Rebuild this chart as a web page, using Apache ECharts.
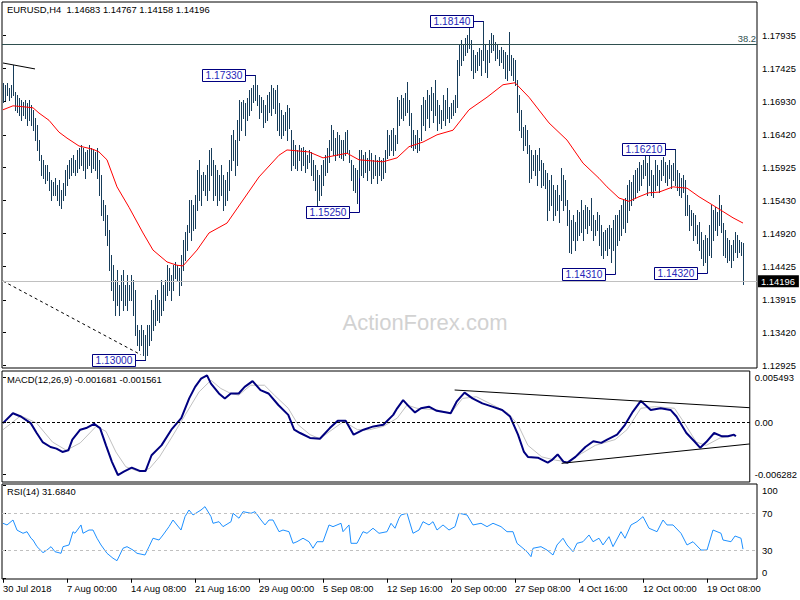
<!DOCTYPE html>
<html><head><meta charset="utf-8">
<script src="https://cdn.jsdelivr.net/npm/echarts@6/dist/echarts.min.js"></script>
<style>html,body{margin:0;padding:0;background:#fff}#c{width:800px;height:600px}</style>
</head><body><div id="c"></div>
<script>
const symbolName = 'EURUSD,H4';
const lastOHLC = [1.14683, 1.14767, 1.14158, 1.14196];
const macdTitle = 'MACD(12,26,9) -0.001681 -0.001561';
const rsiTitle = 'RSI(14) 31.6840';
const watermark = 'ActionForex.com';

const highs = [
1.1721,1.1718,1.1721,1.1713,1.1718,1.1748,1.1707,1.1702,1.1698,1.1695,
1.1692,1.1695,1.1690,1.1695,1.1687,1.1680,1.1668,1.1657,1.1634,1.1611,
1.1604,1.1596,1.1596,1.1586,1.1573,1.1570,1.1576,1.1566,1.1573,1.1558,
1.1569,1.1589,1.1596,1.1604,1.1607,1.1611,1.1604,1.1619,1.1622,1.1627,
1.1622,1.1616,1.1619,1.1627,1.1622,1.1619,1.1616,1.1622,1.1604,1.1581,
1.1543,1.1535,1.1520,1.1498,1.1460,1.1444,1.1422,1.1437,1.1414,1.1429,
1.1437,1.1414,1.1429,1.1414,1.1429,1.1422,1.1406,1.1353,1.1346,1.1353,
1.1346,1.1338,1.1353,1.1353,1.1391,1.1376,1.1399,1.1406,1.1391,1.1422,
1.1414,1.1422,1.1444,1.1440,1.1429,1.1444,1.1449,1.1444,1.1440,1.1460,
1.1482,1.1495,1.1505,1.1543,1.1543,1.1535,1.1551,1.1589,1.1604,1.1581,
1.1586,1.1581,1.1596,1.1619,1.1622,1.1604,1.1596,1.1589,1.1581,1.1596,
1.1581,1.1573,1.1586,1.1604,1.1642,1.1649,1.1634,1.1664,1.1695,1.1692,
1.1695,1.1690,1.1698,1.1710,1.1713,1.1718,1.1733,1.1718,1.1702,1.1699,
1.1695,1.1687,1.1702,1.1707,1.1718,1.1713,1.1710,1.1718,1.1690,1.1680,
1.1672,1.1677,1.1687,1.1683,1.1649,1.1634,1.1627,1.1619,1.1627,1.1622,
1.1623,1.1619,1.1611,1.1619,1.1616,1.1604,1.1596,1.1589,1.1581,1.1596,
1.1604,1.1611,1.1622,1.1634,1.1657,1.1649,1.1637,1.1646,1.1642,1.1634,
1.1634,1.1646,1.1649,1.1619,1.1604,1.1596,1.1592,1.1589,1.1619,1.1619,
1.1611,1.1616,1.1607,1.1619,1.1614,1.1604,1.1611,1.1604,1.1608,1.1604,
1.1607,1.1619,1.1649,1.1642,1.1649,1.1652,1.1642,1.1699,1.1695,1.1702,
1.1698,1.1705,1.1722,1.1695,1.1675,1.1649,1.1642,1.1649,1.1637,1.1687,
1.1699,1.1695,1.1710,1.1702,1.1715,1.1705,1.1725,1.1695,1.1687,1.1680,
1.1702,1.1695,1.1713,1.1684,1.1690,1.1695,1.1702,1.1755,1.1778,1.1786,
1.1778,1.1789,1.1794,1.1804,1.1786,1.1771,1.1763,1.1768,1.1774,1.1771,
1.1814,1.1778,1.1771,1.1786,1.1797,1.1794,1.1783,1.1778,1.1771,1.1775,
1.1771,1.1768,1.1763,1.1798,1.1763,1.1759,1.1755,1.1725,1.1702,1.1680,
1.1654,1.1657,1.1649,1.1627,1.1619,1.1611,1.1619,1.1611,1.1622,1.1604,
1.1599,1.1589,1.1584,1.1573,1.1581,1.1566,1.1558,1.1566,1.1551,1.1592,
1.1581,1.1573,1.1543,1.1528,1.1513,1.1520,1.1510,1.1528,1.1525,1.1543,
1.1528,1.1535,1.1532,1.1528,1.1546,1.1520,1.1513,1.1525,1.1520,1.1505,
1.1495,1.1498,1.1501,1.1505,1.1501,1.1513,1.1520,1.1520,1.1528,1.1535,
1.1543,1.1546,1.1566,1.1573,1.1570,1.1581,1.1589,1.1592,1.1601,1.1596,
1.1604,1.1611,1.1599,1.1616,1.1589,1.1581,1.1604,1.1596,1.1589,1.1604,
1.1608,1.1601,1.1596,1.1604,1.1596,1.1599,1.1621,1.1589,1.1584,1.1576,
1.1581,1.1573,1.1551,1.1535,1.1528,1.1523,1.1520,1.1505,1.1510,1.1495,
1.1482,1.1490,1.1486,1.1505,1.1535,1.1528,1.1532,1.1525,1.1551,1.1535,
1.1508,1.1498,1.1486,1.1482,1.1475,1.1482,1.1495,1.1490,1.1482,1.1479,1.1477
];
const lows = [
1.1692,1.1695,1.1702,1.1695,1.1699,1.1702,1.1680,1.1677,1.1672,1.1664,
1.1672,1.1668,1.1657,1.1664,1.1657,1.1649,1.1634,1.1619,1.1604,1.1581,
1.1576,1.1569,1.1573,1.1558,1.1543,1.1551,1.1551,1.1543,1.1535,1.1531,
1.1543,1.1551,1.1566,1.1576,1.1581,1.1586,1.1581,1.1586,1.1592,1.1596,
1.1589,1.1576,1.1592,1.1596,1.1586,1.1592,1.1589,1.1576,1.1551,1.1520,
1.1513,1.1490,1.1475,1.1437,1.1406,1.1391,1.1368,1.1384,1.1368,1.1391,
1.1376,1.1384,1.1376,1.1391,1.1391,1.1368,1.1338,1.1323,1.1315,1.1323,
1.1308,1.1300,1.1308,1.1323,1.1330,1.1346,1.1353,1.1361,1.1358,1.1368,
1.1376,1.1391,1.1399,1.1406,1.1391,1.1406,1.1425,1.1422,1.1399,1.1414,
1.1437,1.1452,1.1467,1.1495,1.1482,1.1498,1.1501,1.1528,1.1543,1.1535,
1.1558,1.1551,1.1543,1.1558,1.1581,1.1543,1.1551,1.1535,1.1543,1.1551,
1.1528,1.1535,1.1543,1.1558,1.1589,1.1604,1.1581,1.1596,1.1634,1.1649,
1.1668,1.1642,1.1664,1.1672,1.1680,1.1692,1.1695,1.1687,1.1668,1.1677,
1.1654,1.1661,1.1664,1.1677,1.1672,1.1683,1.1675,1.1649,1.1642,1.1637,
1.1642,1.1649,1.1634,1.1652,1.1589,1.1596,1.1592,1.1589,1.1604,1.1589,
1.1596,1.1586,1.1592,1.1601,1.1581,1.1573,1.1558,1.1525,1.1543,1.1551,
1.1566,1.1581,1.1586,1.1601,1.1619,1.1611,1.1604,1.1611,1.1608,1.1607,
1.1604,1.1611,1.1616,1.1601,1.1573,1.1558,1.1555,1.1538,1.1576,1.1581,
1.1578,1.1586,1.1573,1.1589,1.1569,1.1576,1.1581,1.1569,1.1581,1.1573,
1.1576,1.1586,1.1607,1.1611,1.1619,1.1611,1.1619,1.1630,1.1657,1.1668,
1.1664,1.1672,1.1677,1.1657,1.1624,1.1619,1.1622,1.1616,1.1619,1.1634,
1.1657,1.1649,1.1668,1.1654,1.1680,1.1661,1.1672,1.1649,1.1660,1.1652,
1.1664,1.1657,1.1668,1.1661,1.1668,1.1672,1.1677,1.1684,1.1733,1.1748,
1.1755,1.1763,1.1768,1.1774,1.1740,1.1728,1.1737,1.1740,1.1748,1.1733,
1.1755,1.1737,1.1730,1.1753,1.1768,1.1771,1.1755,1.1759,1.1748,1.1753,
1.1743,1.1728,1.1725,1.1740,1.1733,1.1725,1.1718,1.1677,1.1649,1.1639,
1.1619,1.1627,1.1614,1.1570,1.1576,1.1589,1.1581,1.1566,1.1589,1.1563,
1.1566,1.1561,1.1513,1.1528,1.1535,1.1513,1.1520,1.1528,1.1510,1.1543,
1.1528,1.1535,1.1505,1.1464,1.1462,1.1482,1.1467,1.1482,1.1490,1.1495,
1.1482,1.1501,1.1493,1.1505,1.1498,1.1482,1.1490,1.1498,1.1475,1.1460,
1.1455,1.1467,1.1460,1.1470,1.1449,1.1467,1.1433,1.1475,1.1482,1.1490,
1.1501,1.1495,1.1510,1.1528,1.1535,1.1543,1.1546,1.1555,1.1558,1.1566,
1.1576,1.1581,1.1551,1.1566,1.1551,1.1548,1.1558,1.1566,1.1555,1.1573,
1.1581,1.1570,1.1566,1.1576,1.1561,1.1573,1.1566,1.1558,1.1551,1.1548,
1.1555,1.1520,1.1520,1.1498,1.1505,1.1482,1.1490,1.1478,1.1467,1.1455,
1.1444,1.1449,1.1434,1.1460,1.1457,1.1482,1.1498,1.1490,1.1505,1.1495,
1.1460,1.1457,1.1449,1.1452,1.1441,1.1452,1.1464,1.1457,1.1464,1.1460,1.1416
];

// moving average (bar index, price)
const maPoints = [[0,1.1680],[5,1.1686],[12,1.1684],[15,1.1683],[18,1.1675],[23,1.1664],[28,1.1646],[32,1.1637],[38,1.1625],[45,1.1620],[48,1.1616],[52,1.1604],[57,1.1563],[63,1.1532],[70,1.1493],[75,1.1467],[82,1.1449],[87,1.1444],[90,1.1443],[97,1.1467],[103,1.1493],[112,1.1508],[120,1.1543],[128,1.1578],[138,1.1611],[142,1.1619],[153,1.1616],[160,1.1607],[172,1.1614],[178,1.1604],[190,1.1601],[197,1.1607],[203,1.1624],[210,1.1631],[217,1.1642],[225,1.1649],[233,1.1680],[242,1.1699],[250,1.1718],[256,1.1721],[263,1.1699],[273,1.1660],[282,1.1634],[290,1.1599],[298,1.1576],[302,1.1563],[308,1.1546],[313,1.1541],[318,1.1548],[323,1.1554],[328,1.1555],[335,1.1563],[342,1.1561],[348,1.1548],[355,1.1535],[365,1.1516],[370,1.1508]];

const macdMain = [[0,-0.0001],[5,0.0011],[9,0.0007],[14,-0.0001],[17,-0.0013],[20,-0.0024],[24,-0.0030],[27,-0.0032],[30,-0.0036],[33,-0.0034],[35,-0.0021],[39,-0.0009],[42,-0.0007],[46,-0.0002],[49,-0.0007],[52,-0.0028],[55,-0.0048],[58,-0.0064],[61,-0.0060],[65,-0.0055],[69,-0.0059],[72,-0.0059],[75,-0.0040],[80,-0.0028],[85,-0.0009],[90,0.0005],[94,0.0029],[97,0.0043],[100,0.0053],[103,0.0057],[105,0.0047],[109,0.0035],[112,0.0029],[115,0.0035],[119,0.0035],[122,0.0043],[126,0.0050],[130,0.0039],[134,0.0035],[139,0.0021],[144,0.0009],[147,-0.0009],[150,-0.0013],[155,-0.0019],[160,-0.0020],[165,-0.0007],[169,0.0002],[173,0.0002],[177,-0.0015],[182,-0.0009],[187,-0.0005],[192,-0.0003],[197,0.0009],[199,0.0017],[202,0.0027],[205,0.0019],[208,0.0012],[211,0.0017],[215,0.0019],[219,0.0014],[224,0.0012],[226,0.0011],[229,0.0025],[233,0.0036],[237,0.0029],[242,0.0023],[247,0.0019],[252,0.0015],[256,0.0007],[260,-0.0015],[263,-0.0036],[265,-0.0042],[270,-0.0043],[275,-0.0049],[277,-0.0046],[280,-0.0039],[283,-0.0048],[285,-0.0049],[289,-0.0042],[294,-0.0030],[298,-0.0023],[302,-0.0025],[305,-0.0021],[310,-0.0015],[314,-0.0003],[318,0.0013],[322,0.0026],[327,0.0015],[332,0.0017],[337,0.0015],[340,0.0007],[345,-0.0013],[349,-0.0023],[352,-0.0031],[355,-0.0024],[359,-0.0013],[363,-0.0017],[366,-0.0017],[369,-0.0015],[370,-0.0017]];
const macdSignal = [[0,-0.0009],[9,0.0008],[17,-0.0001],[25,-0.0024],[32,-0.0034],[39,-0.0025],[47,-0.0005],[52,-0.0011],[57,-0.0036],[62,-0.0054],[69,-0.0060],[74,-0.0056],[79,-0.0042],[85,-0.0019],[92,0.0009],[99,0.0037],[105,0.0051],[110,0.0041],[115,0.0035],[119,0.0033],[125,0.0045],[132,0.0045],[137,0.0033],[144,0.0017],[149,-0.0003],[155,-0.0015],[160,-0.0020],[165,-0.0011],[172,0.0001],[179,-0.0009],[185,-0.0009],[192,-0.0005],[199,0.0005],[204,0.0021],[209,0.0017],[219,0.0015],[226,0.0011],[232,0.0029],[239,0.0031],[249,0.0019],[255,0.0011],[260,-0.0003],[265,-0.0028],[272,-0.0042],[279,-0.0046],[285,-0.0048],[292,-0.0038],[299,-0.0028],[309,-0.0021],[315,-0.0009],[322,0.0017],[329,0.0019],[339,0.0017],[344,-0.0001],[350,-0.0024],[355,-0.0028],[362,-0.0019],[370,-0.0016]];
const macdUpperTrend = [[228,0.00392],[377,0.00177]];
const macdLowerTrend = [[282,-0.00498],[377,-0.00263]];

const rsiValues = [[0,59.3],[2,57.5],[5,62.8],[7,52.0],[10,48.6],[12,50.3],[14,43.3],[15,41.4],[17,34.3],[20,27.9],[22,30.7],[24,34.3],[26,28.9],[29,27.2],[30,34.3],[33,36.1],[35,50.3],[36,48.6],[39,57.5],[40,48.6],[43,52.1],[45,52.1],[47,43.3],[49,36.1],[52,27.2],[55,21.9],[57,19.3],[60,32.6],[62,34.3],[65,30.7],[67,27.2],[71,25.4],[73,34.3],[75,43.3],[78,41.4],[80,46.8],[83,55.7],[85,62.8],[89,52.1],[91,66.4],[93,73.5],[95,68.2],[99,73.5],[101,77.1],[104,66.4],[105,59.3],[108,61.0],[110,55.7],[114,61.0],[115,70.0],[118,64.7],[120,71.7],[124,70.0],[126,71.7],[129,62.8],[131,57.5],[133,62.8],[135,62.8],[138,50.3],[140,52.1],[143,50.3],[145,37.9],[147,39.6],[150,43.3],[153,39.6],[155,32.6],[157,39.6],[160,39.6],[163,57.5],[165,55.7],[169,59.3],[170,50.3],[173,57.5],[174,37.9],[177,37.9],[180,50.3],[182,48.6],[185,54.0],[188,48.6],[192,50.3],[194,59.3],[196,54.0],[198,64.7],[199,68.2],[202,70.0],[205,48.6],[208,52.1],[210,61.0],[213,57.5],[215,61.0],[217,52.1],[220,57.5],[223,52.1],[226,55.7],[228,70.0],[232,68.2],[235,57.5],[239,59.3],[242,55.7],[245,59.3],[249,55.7],[252,50.3],[255,50.3],[257,37.9],[260,32.6],[262,28.9],[264,23.6],[265,32.6],[269,34.3],[272,30.7],[275,25.4],[277,36.1],[280,43.3],[282,36.1],[285,28.9],[287,37.9],[290,39.6],[293,46.8],[295,39.6],[298,43.3],[300,36.1],[303,45.0],[305,34.3],[309,50.3],[311,43.3],[314,57.5],[317,61.0],[320,66.4],[323,54.0],[327,50.3],[330,62.8],[332,57.5],[335,57.5],[339,48.6],[342,36.1],[345,39.6],[349,30.7],[352,30.7],[355,52.1],[359,48.6],[360,41.4],[364,39.6],[366,45.7],[369,43.3],[370,31.7]];

const priceTicks = [1.17935,1.17425,1.16930,1.16420,1.15925,1.15430,1.14920,1.14425,1.13915,1.13420,1.12925];
const macdTicks = [0.005493, 0, -0.006282];
const rsiTicks = [0, 30, 70, 100];
const rsiLevels = [70, 30];
const timeTickIdx = [0,32,64,96,128,160,192,224,256,288,320,352];
const timeLabels = ['30 Jul 2018','7 Aug 00:00','14 Aug 08:00','21 Aug 16:00','29 Aug 00:00','5 Sep 08:00','12 Sep 16:00','20 Sep 00:00','27 Sep 08:00','4 Oct 16:00','12 Oct 00:00','19 Oct 08:00'];

const annotations = [[126,1.17330,'1.17330'],[240,1.18140,'1.18140'],[71,1.13000,'1.13000'],[178,1.15250,'1.15250'],[306,1.14310,'1.14310'],[336,1.16210,'1.16210'],[352,1.14320,'1.14320']];
const trendTop = [[0,1.1751],[16,1.1742]];
const trendDashed = [[0,1.1420],[69,1.1308]];
const fibLevel = 1.17798, fibText = '38.2';

const FONT = '"Liberation Sans", Arial, sans-serif';
const FS = 9.4;
const BAR = '#173d5a';

const chart = echarts.init(document.getElementById('c'), null, {renderer:'svg'});
const hiddenX = (gi) => ({type:'value', gridIndex:gi, min:-0.5, max:377, axisLine:{show:false}, axisTick:{show:false}, axisLabel:{show:false}, splitLine:{show:false}});
const rightY = (gi, min, max, ticks, fmt, extra) => Object.assign({type:'value', gridIndex:gi, position:'right', min, max,
  axisLine:{show:false}, splitLine:{show:false},
  axisTick:{show:true, length:3, customValues:ticks, lineStyle:{color:'#000'}},
  axisLabel:{customValues:ticks, formatter:fmt, color:'#000', fontSize:FS, fontFamily:FONT, margin:5}}, extra||{});

const option = {
  animation:false,
  grid:[
    {left:2, right:43, top:2, height:366, show:true, borderColor:'#000', borderWidth:1},
    {left:2, right:43, top:371, height:111, show:true, borderColor:'#000', borderWidth:1},
    {left:2, right:43, top:484, height:95, show:true, borderColor:'#000', borderWidth:1}
  ],
  xAxis:[hiddenX(0), hiddenX(1), {type:'value', gridIndex:2, min:-0.5, max:377,
    axisLine:{show:false}, splitLine:{show:false},
    axisTick:{show:true, length:4, customValues:timeTickIdx, lineStyle:{color:'#000'}},
    axisLabel:{customValues:timeTickIdx, formatter:(v)=>timeLabels[timeTickIdx.indexOf(Math.round(v))]||'', align:'left', color:'#000', fontSize:FS, fontFamily:FONT, margin:5}}],
  yAxis:[
    rightY(0, 1.12880, 1.18436, priceTicks, (v)=>v.toFixed(5)),
    rightY(1, -0.007247, 0.006227, macdTicks, (v)=> Math.abs(v)<1e-9 ? '0.00' : v.toFixed(6)),
    rightY(2, -0.27, 101.3, rsiTicks, (v)=> v===100 ? '{t|100}' : (v===0 ? '{b|0}' : String(v)))
  ],
  graphic:[
    {type:'text', z:1, x:425, y:322, style:{text:watermark, fill:'#d2d2d2', font:'22px '+FONT, align:'center', verticalAlign:'middle'}},
    {type:'text', left:7, top:5, style:{text:symbolName+'  '+lastOHLC.map(v=>v.toFixed(5)).join(' '), fill:'#000', font:FS+'px '+FONT}},
    {type:'text', left:7, top:375, style:{text:macdTitle, fill:'#000', font:FS+'px '+FONT}},
    {type:'text', left:7, top:487, style:{text:rsiTitle, fill:'#000', font:FS+'px '+FONT}}
  ],
  series:[
    {type:'custom', xAxisIndex:0, yAxisIndex:0, silent:true, z:3,
      data: highs.map((h,i)=>[i,h,lows[i]]), encode:{x:0, y:[1,2]},
      renderItem:(params, api)=>{
        const i = api.value(0);
        const p1 = api.coord([i, api.value(1)]), p2 = api.coord([i, api.value(2)]);
        const x = Math.round(p1[0]) + 0.5;
        return {type:'line', shape:{x1:x, y1:Math.round(p1[1]), x2:x, y2:Math.round(p2[1])+1}, style:{stroke:BAR, lineWidth:1}};
      }},
    {type:'line', xAxisIndex:0, yAxisIndex:0, data:maPoints, showSymbol:false, symbol:'none', silent:true, z:4,
      lineStyle:{color:'#ff0000', width:1},
      markLine:{symbol:'none', silent:true, animation:false, precision:5, data:[
        {yAxis:lastOHLC[3], lineStyle:{color:'#c0c0c0', type:'solid', width:1},
          label:{show:true, position:'end', formatter:lastOHLC[3].toFixed(5), backgroundColor:'#000', color:'#fff', padding:[2,4,1,3], fontSize:FS, fontFamily:FONT, distance:1}},
        {yAxis:fibLevel, lineStyle:{color:'#2f4f4f', type:'solid', width:1},
          label:{show:true, position:'insideEndTop', formatter:fibText, color:'#2f4f4f', fontSize:FS, fontFamily:FONT, distance:1}}
      ]}},
    {type:'line', xAxisIndex:0, yAxisIndex:0, data:trendTop, symbol:'none', silent:true, z:4, lineStyle:{color:'#000', width:1}},
    {type:'line', xAxisIndex:0, yAxisIndex:0, data:trendDashed, symbol:'none', silent:true, z:4, lineStyle:{color:'#000', width:1, type:[3,3]}},
    {type:'custom', xAxisIndex:0, yAxisIndex:0, silent:true, z:6,
      data: annotations.map(a=>[a[0],a[1]]), encode:{x:0, y:1},
      renderItem:(params, api)=>{
        const i = api.value(0), price = api.value(1);
        const a = api.coord([i, price]);
        const ax = Math.round(a[0]) + 0.5, ay = Math.round(a[1]) + 0.5;
        const hiY = api.coord([i, highs[i]])[1], loY = api.coord([i, lows[i]])[1];
        const vy = ay < hiY ? hiY : (ay > loY ? loY : ay);
        const right = ax - 10, w = 43, h = 12;
        return {type:'group', children:[
          {type:'line', shape:{x1:right, y1:ay, x2:ax, y2:ay}, style:{stroke:'#000080', lineWidth:1}},
          {type:'line', shape:{x1:ax, y1:ay, x2:ax, y2:vy}, style:{stroke:'#000080', lineWidth:1}},
          {type:'rect', shape:{x:right-w, y:ay-6, width:w, height:h}, style:{fill:'#fff', stroke:'#000080', lineWidth:1}},
          {type:'text', x:right-w/2, y:ay, style:{text:annotations[params.dataIndex][2], fill:'#2626b8', font:'10.2px '+FONT, align:'center', verticalAlign:'middle'}}
        ]};
      }},
    {type:'line', xAxisIndex:1, yAxisIndex:1, data:macdSignal, symbol:'none', silent:true, z:3, lineStyle:{color:'#c0c0c0', width:1}},
    {type:'line', xAxisIndex:1, yAxisIndex:1, data:macdMain, symbol:'none', silent:true, z:4, lineStyle:{color:'#000080', width:2},
      markLine:{symbol:'none', silent:true, animation:false, precision:6, label:{show:false}, data:[{yAxis:0, lineStyle:{color:'#000', type:[3,2], width:1}}]}},
    {type:'line', xAxisIndex:1, yAxisIndex:1, data:macdUpperTrend, symbol:'none', silent:true, z:5, lineStyle:{color:'#000', width:1}},
    {type:'line', xAxisIndex:1, yAxisIndex:1, data:macdLowerTrend, symbol:'none', silent:true, z:5, lineStyle:{color:'#000', width:1}},
    {type:'line', xAxisIndex:2, yAxisIndex:2, data:rsiValues, symbol:'none', silent:true, z:4, lineStyle:{color:'#1e90ff', width:1},
      markLine:{symbol:'none', silent:true, animation:false, label:{show:false}, data:rsiLevels.map(v=>({yAxis:v, lineStyle:{color:'#c0c0c0', type:[3,3], width:1}}))}}
  ]
};
option.yAxis[2].axisLabel.rich = {
  t:{padding:[11,0,0,0], fontSize:FS, fontFamily:FONT, color:'#000'},
  b:{padding:[0,0,13,0], fontSize:FS, fontFamily:FONT, color:'#000'}
};
chart.setOption(option);
</script>
</body></html>
